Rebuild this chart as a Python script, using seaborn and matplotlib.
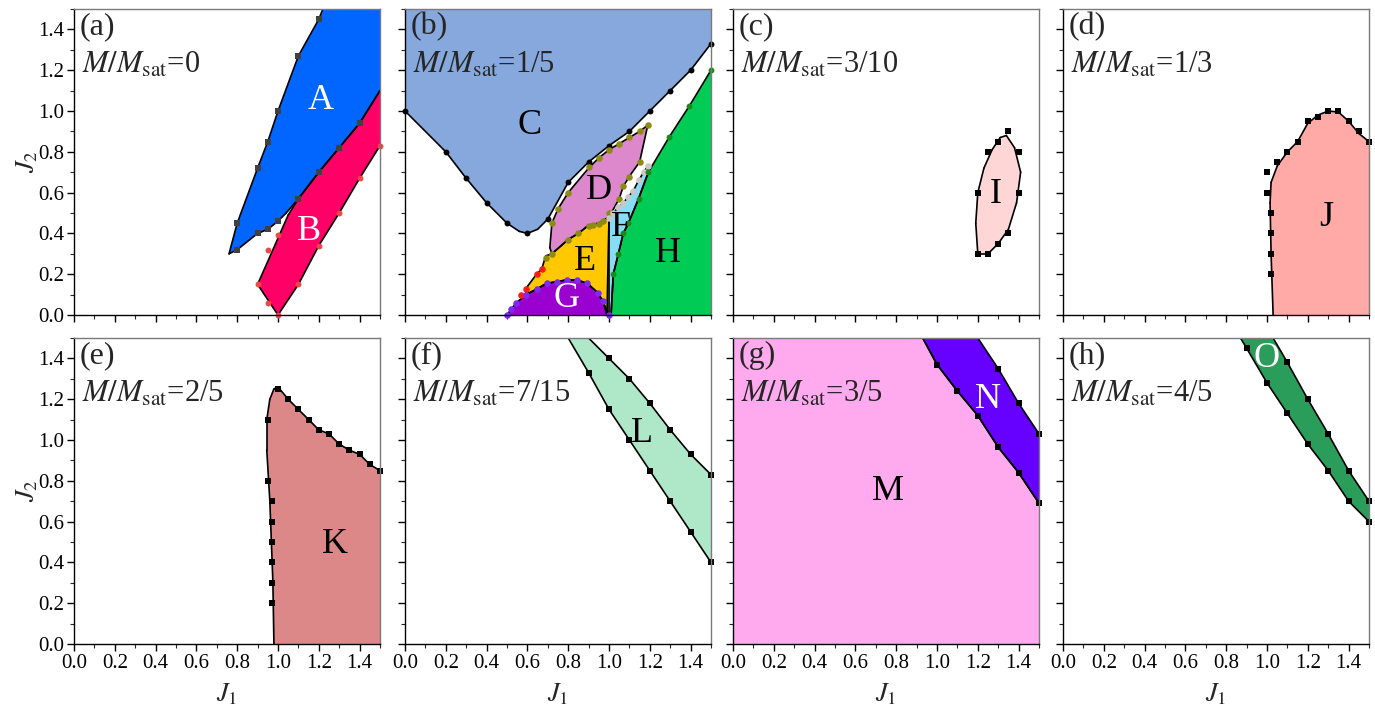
import matplotlib
matplotlib.use("Agg")
import matplotlib.pyplot as plt
import seaborn as sns
from matplotlib.ticker import MultipleLocator

sns.set_theme(style="ticks")
plt.rcParams['font.family'] = ['Liberation Serif', 'DejaVu Serif']
plt.rcParams['mathtext.fontset'] = 'stix'

# ---------------- data (J1, J2) ----------------
# (a) M/Msat = 0
A_x = [0.76, 0.80, 0.90, 0.95, 1.00, 1.10, 1.20, 1.22, 1.50, 1.50, 1.40, 1.30, 1.20, 1.10, 1.04, 1.00, 0.95, 0.90, 0.80]
A_y = [0.30, 0.45, 0.72, 0.85, 1.00, 1.27, 1.45, 1.50, 1.50, 1.10, 0.94, 0.82, 0.70, 0.57, 0.50, 0.46, 0.42, 0.40, 0.32]
A_pts_x = [0.80, 0.80, 0.90, 0.95, 1.00, 1.10, 1.20, 0.90, 0.95, 1.00, 1.10, 1.20, 1.30, 1.40]
A_pts_y = [0.32, 0.45, 0.72, 0.85, 1.00, 1.27, 1.45, 0.40, 0.42, 0.46, 0.57, 0.70, 0.82, 0.94]
B_x = [0.90, 1.00, 1.10, 1.20, 1.30, 1.40, 1.50, 1.50, 1.40, 1.30, 1.20, 1.10, 1.05]
B_y = [0.15, 0.00, 0.15, 0.34, 0.50, 0.67, 0.83, 1.10, 0.94, 0.82, 0.70, 0.57, 0.49]
B_pts_x = [0.90, 0.95, 1.00, 1.10, 1.20, 1.30, 1.40, 1.50, 0.95, 1.00]
B_pts_y = [0.15, 0.06, 0.00, 0.15, 0.34, 0.50, 0.67, 0.83, 0.32, 0.39]

# (b) M/Msat = 1/5
C_x = [0.00, 0.00, 0.20, 0.30, 0.40, 0.50, 0.56, 0.60, 0.65, 0.70, 0.80, 0.90, 1.00, 1.10, 1.20, 1.30, 1.40, 1.50, 1.50]
C_y = [1.50, 1.00, 0.80, 0.67, 0.55, 0.45, 0.41, 0.40, 0.42, 0.47, 0.65, 0.75, 0.83, 0.90, 1.00, 1.10, 1.20, 1.33, 1.50]
C_pts_x = [0.00, 0.20, 0.30, 0.40, 0.50, 0.60, 0.70, 0.80, 0.90, 1.00, 1.10, 1.20, 1.30, 1.40, 1.50]
C_pts_y = [1.00, 0.80, 0.67, 0.55, 0.45, 0.40, 0.47, 0.65, 0.75, 0.83, 0.90, 1.00, 1.10, 1.20, 1.33]
D_x = [1.19, 1.15, 1.10, 1.05, 1.00, 0.95, 0.90, 0.80, 0.75, 0.72, 0.71, 0.72, 0.80, 0.85, 0.90, 0.95, 1.00, 1.05, 1.07, 1.10, 1.15]
D_y = [0.93, 0.90, 0.87, 0.84, 0.81, 0.77, 0.72, 0.60, 0.52, 0.45, 0.33, 0.30, 0.37, 0.40, 0.44, 0.45, 0.48, 0.57, 0.63, 0.68, 0.75]
D_pts_x = [1.19, 1.15, 1.10, 1.05, 1.00, 0.95, 0.90, 0.80, 0.75, 0.72, 0.69, 0.72, 0.80, 0.85, 0.90, 0.92, 0.95, 0.97, 1.00, 1.05, 1.07, 1.10, 1.15]
D_pts_y = [0.93, 0.90, 0.875, 0.84, 0.81, 0.77, 0.725, 0.60, 0.52, 0.45, 0.28, 0.30, 0.37, 0.40, 0.435, 0.44, 0.445, 0.46, 0.50, 0.57, 0.63, 0.675, 0.75]
E_x = [0.69, 0.72, 0.80, 0.85, 0.90, 0.95, 1.00, 0.99, 0.97, 0.945, 0.894, 0.842, 0.792, 0.743, 0.694, 0.645, 0.59, 0.60, 0.645, 0.67]
E_y = [0.29, 0.30, 0.37, 0.40, 0.44, 0.45, 0.48, 0.00, 0.069, 0.109, 0.155, 0.172, 0.172, 0.163, 0.155, 0.127, 0.10, 0.14, 0.20, 0.225]
E_pts_x = [0.567, 0.593, 0.645, 0.67]
E_pts_y = [0.10, 0.126, 0.20, 0.224]
F_x = [1.00, 1.00, 1.02, 1.046, 1.07, 1.095, 1.12, 1.145, 1.17, 1.19, 1.193, 1.145, 1.095, 1.07, 1.046, 1.021, 1.01]
F_y = [0.00, 0.475, 0.50, 0.528, 0.55, 0.58, 0.61, 0.66, 0.70, 0.73, 0.70, 0.57, 0.45, 0.40, 0.30, 0.20, 0.00]
F_pts_x = [1.00, 1.02, 1.046, 1.07, 1.095, 1.12, 1.145, 1.17, 1.19]
F_pts_y = [0.475, 0.50, 0.528, 0.55, 0.58, 0.61, 0.66, 0.70, 0.73]
G_x = [0.50, 0.52, 0.545, 0.593, 0.645, 0.694, 0.743, 0.792, 0.842, 0.894, 0.945, 0.969, 1.00]
G_y = [0.00, 0.028, 0.06, 0.098, 0.127, 0.155, 0.163, 0.172, 0.172, 0.155, 0.109, 0.069, 0.00]
H_x = [1.01, 1.021, 1.046, 1.07, 1.095, 1.145, 1.193, 1.296, 1.394, 1.50, 1.50]
H_y = [0.00, 0.20, 0.30, 0.40, 0.45, 0.57, 0.70, 0.874, 1.025, 1.20, 0.00]
H_pts_x = [1.021, 1.046, 1.07, 1.095, 1.145, 1.193, 1.296, 1.394, 1.50]
H_pts_y = [0.20, 0.30, 0.40, 0.45, 0.57, 0.70, 0.874, 1.025, 1.20]

# (c) M/Msat = 3/10
I_x = [1.20, 1.19, 1.20, 1.23, 1.27, 1.31, 1.34, 1.38, 1.41, 1.39, 1.35, 1.30, 1.25]
I_y = [0.30, 0.45, 0.60, 0.72, 0.81, 0.87, 0.88, 0.82, 0.70, 0.55, 0.42, 0.35, 0.30]
I_pts_x = [1.20, 1.25, 1.30, 1.35, 1.40, 1.40, 1.35, 1.30, 1.25, 1.20]
I_pts_y = [0.30, 0.30, 0.35, 0.40, 0.60, 0.80, 0.90, 0.85, 0.80, 0.60]

# (d) M/Msat = 1/3
J_x = [1.03, 1.02, 1.015, 1.02, 1.05, 1.10, 1.15, 1.20, 1.25, 1.30, 1.35, 1.40, 1.45, 1.50, 1.50]
J_y = [0.00, 0.30, 0.55, 0.65, 0.73, 0.80, 0.85, 0.94, 0.98, 1.00, 0.995, 0.95, 0.89, 0.85, 0.00]
J_pts_x = [1.00, 1.00, 1.02, 1.02, 1.02, 1.02, 1.05, 1.10, 1.15, 1.20, 1.25, 1.30, 1.35, 1.40, 1.45, 1.50]
J_pts_y = [0.70, 0.60, 0.50, 0.40, 0.30, 0.20, 0.75, 0.80, 0.85, 0.95, 0.97, 1.00, 1.00, 0.95, 0.90, 0.85]

# (e) M/Msat = 2/5
K_x = [0.98, 0.975, 0.96, 0.945, 0.945, 0.96, 0.98, 1.00, 1.05, 1.10, 1.15, 1.20, 1.25, 1.30, 1.35, 1.40, 1.45, 1.50, 1.50]
K_y = [0.00, 0.30, 0.70, 0.95, 1.10, 1.20, 1.25, 1.26, 1.20, 1.15, 1.10, 1.05, 1.03, 0.98, 0.95, 0.93, 0.88, 0.85, 0.00]
K_pts_x = [1.00, 1.05, 1.10, 1.15, 1.20, 1.25, 1.30, 1.35, 1.40, 1.45, 1.50, 0.95, 0.95, 0.97, 0.97, 0.97, 0.97, 0.97, 0.97]
K_pts_y = [1.25, 1.20, 1.15, 1.10, 1.05, 1.03, 0.98, 0.95, 0.93, 0.88, 0.85, 1.10, 0.80, 0.70, 0.60, 0.50, 0.40, 0.30, 0.20]

# (f) M/Msat = 7/15
L_x = [0.90, 1.00, 1.10, 1.20, 1.30, 1.40, 1.50, 1.50, 1.40, 1.30, 1.20, 1.10, 1.00, 0.90, 0.80]
L_y = [1.50, 1.40, 1.30, 1.18, 1.05, 0.93, 0.83, 0.40, 0.55, 0.70, 0.85, 1.00, 1.15, 1.33, 1.50]
L_pts_x = [1.00, 1.10, 1.20, 1.30, 1.40, 1.50, 0.90, 1.00, 1.10, 1.20, 1.30, 1.40, 1.50]
L_pts_y = [1.40, 1.30, 1.18, 1.05, 0.93, 0.83, 1.33, 1.15, 1.00, 0.85, 0.70, 0.55, 0.40]

# (g) M/Msat = 3/5
M_x = [0.00, 0.00, 0.93, 1.00, 1.10, 1.20, 1.30, 1.40, 1.50, 1.50]
M_y = [0.00, 1.50, 1.50, 1.37, 1.24, 1.12, 0.965, 0.84, 0.69, 0.00]
N_x = [0.93, 1.20, 1.30, 1.40, 1.50, 1.50, 1.40, 1.30, 1.20, 1.10, 1.00]
N_y = [1.50, 1.50, 1.35, 1.18, 1.03, 0.69, 0.84, 0.965, 1.12, 1.24, 1.37]
N_pts_x = [1.30, 1.40, 1.50, 1.00, 1.10, 1.20, 1.30, 1.40, 1.50]
N_pts_y = [1.35, 1.18, 1.03, 1.37, 1.24, 1.12, 0.965, 0.84, 0.69]

# (h) M/Msat = 4/5
O_x = [0.87, 1.03, 1.10, 1.20, 1.30, 1.40, 1.50, 1.50, 1.40, 1.30, 1.20, 1.10, 1.00, 0.90]
O_y = [1.50, 1.50, 1.38, 1.20, 1.03, 0.85, 0.70, 0.60, 0.70, 0.85, 0.98, 1.13, 1.28, 1.45]
O_pts_x = [1.10, 1.20, 1.30, 1.40, 1.50, 0.90, 1.00, 1.10, 1.20, 1.30, 1.40, 1.50]
O_pts_y = [1.38, 1.20, 1.03, 0.85, 0.70, 1.45, 1.28, 1.13, 0.98, 0.85, 0.70, 0.60]

panel_tags = ['(a)', '(b)', '(c)', '(d)', '(e)', '(f)', '(g)', '(h)']
mag_values = ['0', '1/5', '3/10', '1/3', '2/5', '7/15', '3/5', '4/5']

# region: (panel, polygon x, polygon y, fill colour, label, label x, label y, label colour)
regions = [
    (0, A_x, A_y, '#0066ff', 'A', 1.21, 1.05, 'white'),
    (0, B_x, B_y, '#ff0066', 'B', 1.15, 0.41, 'white'),
    (1, C_x, C_y, '#86a8dc', 'C', 0.61, 0.93, 'black'),
    (1, D_x, D_y, '#dd88cc', 'D', 0.95, 0.61, 'black'),
    (1, E_x, E_y, '#ffc800', 'E', 0.88, 0.26, 'black'),
    (1, F_x, F_y, '#88ddf6', 'F', 1.06, 0.43, 'black'),
    (1, G_x, G_y, '#9a00d0', 'G', 0.79, 0.08, 'white'),
    (1, H_x, H_y, '#00cc55', 'H', 1.29, 0.30, 'black'),
    (2, I_x, I_y, '#ffd6d6', 'I', 1.29, 0.59, 'black'),
    (3, J_x, J_y, '#ffaaa6', 'J', 1.29, 0.48, 'black'),
    (4, K_x, K_y, '#dd8888', 'K', 1.28, 0.49, 'black'),
    (5, L_x, L_y, '#aee8c8', 'L', 1.16, 1.03, 'black'),
    (6, M_x, M_y, '#ffaaee', 'M', 0.76, 0.75, 'black'),
    (6, N_x, N_y, '#6600ff', 'N', 1.25, 1.20, 'white'),
    (7, O_x, O_y, '#2a9d5a', 'O', 1.00, 1.40, 'white'),
]

# markers: (panel, x, y, marker, colour, size)
markers = [
    (0, A_pts_x, A_pts_y, 's', '#404040', 14),
    (0, B_pts_x, B_pts_y, 'o', '#f04545', 18),
    (1, C_pts_x, C_pts_y, 'o', 'black', 18),
    (1, D_pts_x, D_pts_y, 'o', '#8c8c14', 22),
    (1, E_pts_x, E_pts_y, 'o', '#ff1a1a', 22),
    (1, F_pts_x, F_pts_y, 'o', '#c8c8c8', 22),
    (1, G_x, G_y, 'o', '#7f2af2', 22),
    (1, H_pts_x, H_pts_y, 'o', '#1a8a1a', 18),
    (2, I_pts_x, I_pts_y, 's', 'black', 16),
    (3, J_pts_x, J_pts_y, 's', 'black', 16),
    (4, K_pts_x, K_pts_y, 's', 'black', 16),
    (5, L_pts_x, L_pts_y, 's', 'black', 16),
    (6, N_pts_x, N_pts_y, 's', 'black', 16),
    (7, O_pts_x, O_pts_y, 's', 'black', 16),
]


def on_frame(p, q):
    """True when a segment runs along the plot frame"""
    for k in (0, 1):
        for edge in (0.0, 1.5):
            if p[k] == edge and q[k] == edge:
                return True
    return False


fig = plt.figure(figsize=(13.75, 7.06), dpi=100)
lefts = [74, 405, 733, 1063]
W, H = 1375.0, 706.0
axes = []
for r, top in enumerate([9, 338]):
    for c, left in enumerate(lefts):
        ax = fig.add_axes([left / W, 1 - (top + 306) / H, 306 / W, 306 / H])
        axes.append(ax)

for i, ax in enumerate(axes):
    ax.set_xlim(0, 1.5)
    ax.set_ylim(0, 1.5)
    ax.xaxis.set_major_locator(MultipleLocator(0.2))
    ax.xaxis.set_minor_locator(MultipleLocator(0.1))
    ax.yaxis.set_major_locator(MultipleLocator(0.2))
    ax.yaxis.set_minor_locator(MultipleLocator(0.1))
    ax.tick_params(which='major', direction='out', length=5, width=1, labelsize=15, pad=2, colors='black')
    ax.tick_params(which='minor', direction='out', length=3, width=0.8)
    ax.tick_params(top=False, right=False, which='both')
    for s in ('left', 'bottom'):
        ax.spines[s].set_color('black')
        ax.spines[s].set_linewidth(1.0)
    for s in ('top', 'right'):
        ax.spines[s].set_color('#7a7a7a')
        ax.spines[s].set_linewidth(1.0)
    for sp in ax.spines.values():
        sp.set_zorder(6)
    ax.xaxis.set_major_formatter(plt.FormatStrFormatter('%.1f'))
    ax.yaxis.set_major_formatter(plt.FormatStrFormatter('%.1f'))
    if i < 4:
        ax.set_xticklabels([])
    else:
        ax.set_xlabel(r'$J_1$', fontsize=19, labelpad=6)
    if i % 4 != 0:
        ax.set_yticklabels([])
    else:
        ax.set_ylabel(r'$J_2$', fontsize=19, labelpad=-1)
    ax.text(0.02, 0.99, panel_tags[i], transform=ax.transAxes, fontsize=23,
            ha='left', va='top', zorder=7)
    ax.text(0.025, 0.79, r'$M/M_{\rm sat}$=' + mag_values[i], transform=ax.transAxes,
            fontsize=22, ha='left', va='baseline', zorder=7)

for p, xs, ys, col, lab, lx, ly, lc in regions:
    ax = axes[p]
    ax.fill(xs, ys, color=col, lw=0, zorder=1)
    pts = list(zip(xs, ys)) + [(xs[0], ys[0])]
    for a, b in zip(pts[:-1], pts[1:]):
        if not on_frame(a, b):
            ax.plot([a[0], b[0]], [a[1], b[1]], color='black', lw=1.2, zorder=2,
                    solid_capstyle='round')
    ax.text(lx, ly, lab, fontsize=26, color=lc, ha='center', va='center', zorder=5)

for p, xs, ys, mk, col, sz in markers:
    sns.scatterplot(x=xs, y=ys, ax=axes[p], marker=mk, color=col, s=sz,
                    linewidth=0, zorder=4, clip_on=False)

fig.savefig('out.png', dpi=100)
